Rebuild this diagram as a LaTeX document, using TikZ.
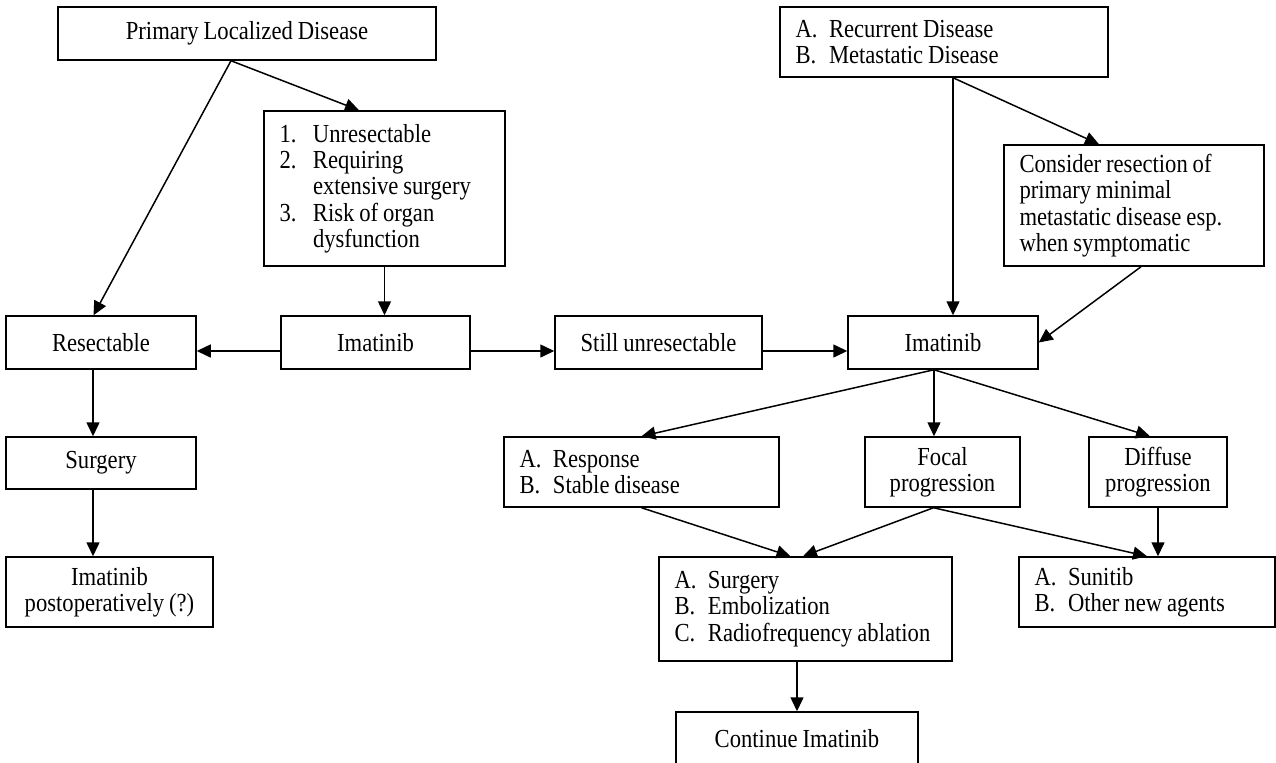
\documentclass[tikz,border=0pt]{standalone}
\usepackage{fontspec}
\setmainfont[FakeStretch=0.87,WordSpace=0.87]{Liberation Serif}
\usepackage{tikz}
\usetikzlibrary{arrows.meta}
\newcommand{\fs}{\fontsize{14.8pt}{15pt}\selectfont}
\newcommand{\itm}[2]{\makebox[0.67cm][l]{#1}#2}

\begin{document}
\begin{tikzpicture}[
  box/.style={draw,line width=0.85pt,inner sep=0pt,align=center,font=\fs},
  lbox/.style={box,inner xsep=0.31cm,align=flush left},
  arr/.style={-{Triangle[length=0.28cm,width=0.26cm]},line width=0.85pt}]
  \useasboundingbox (0,0) rectangle (25.52,-15.24);
  % left branch
  \node[box,minimum width=7.56cm,minimum height=1.06cm] (primary) at (4.94,-0.67) {Primary Localized Disease};
  \node[lbox,text width=4.20cm,minimum height=3.10cm] (crit) at (7.69,-3.77)
    {\itm{1.}{Unresectable}\\ \itm{2.}{Requiring}\\ \hspace*{0.67cm}extensive surgery\\ \itm{3.}{Risk of organ}\\ \hspace*{0.67cm}dysfunction};
  \node[box,minimum width=3.80cm,minimum height=1.06cm] (resect) at (2.02,-6.85) {Resectable};
  \node[box,minimum width=3.78cm,minimum height=1.06cm] (imat1) at (7.51,-6.85) {Imatinib};
  \node[box,minimum width=3.80cm,minimum height=1.04cm] (surg) at (2.02,-9.26) {Surgery};
  \node[box,minimum width=4.14cm,minimum height=1.40cm] (post) at (2.19,-11.84) {Imatinib\\ postoperatively (?)};
  % right branch
  \node[box,minimum width=4.14cm,minimum height=1.06cm] (still) at (13.17,-6.85) {Still unresectable};
  \node[lbox,text width=5.94cm,minimum height=1.40cm] (rec) at (18.88,-0.84)
    {\itm{A.}{Recurrent Disease}\\ \itm{B.}{Metastatic Disease}};
  \node[lbox,text width=4.58cm,minimum height=2.42cm] (consider) at (22.68,-4.11)
    {Consider resection of\\ primary minimal\\ metastatic disease esp.\\ when symptomatic};
  \node[box,minimum width=3.80cm,minimum height=1.06cm] (imat2) at (18.86,-6.85) {Imatinib};
  \node[lbox,text width=4.88cm,minimum height=1.40cm] (resp) at (12.83,-9.44)
    {\itm{A.}{Response}\\ \itm{B.}{Stable disease}};
  \node[box,minimum width=3.10cm,minimum height=1.40cm] (focal) at (18.85,-9.44) {Focal\\ progression};
  \node[box,minimum width=2.76cm,minimum height=1.40cm] (diffuse) at (23.16,-9.44) {Diffuse\\ progression};
  \node[lbox,text width=5.24cm,minimum height=2.08cm] (opts) at (16.11,-12.18)
    {\itm{A.}{Surgery}\\ \itm{B.}{Embolization}\\ \itm{C.}{Radiofrequency ablation}};
  \node[lbox,text width=4.50cm,minimum height=1.40cm] (suni) at (22.94,-11.84)
    {\itm{A.}{Sunitib}\\ \itm{B.}{Other new agents}};
  \node[box,minimum width=4.84cm,minimum height=1.08cm] (cont) at (15.94,-14.78) {Continue Imatinib};
  % connectors
  \coordinate (p0) at ([xshift=-0.32cm]primary.south);
  \coordinate (c0) at (crit.south);
  \coordinate (s0) at ([xshift=-0.16cm]resect.south);
  \coordinate (r0) at ([xshift=0.18cm]rec.south);
  \coordinate (i0) at ([xshift=-0.18cm]imat2.south);
  \coordinate (f0) at ([xshift=-0.18cm]focal.south);
  \coordinate (o0) at ([xshift=-0.17cm]opts.south);
  \draw[arr] (p0) -- ([xshift=-0.15cm]resect.north);
  \draw[arr] (p0) -- ([xshift=-0.51cm]crit.north);
  \draw[arr] (c0) -- (c0 |- imat1.north);
  \draw[arr] ([yshift=-0.17cm]imat1.west) -- ([yshift=-0.17cm]resect.east);
  \draw[arr] ([yshift=-0.17cm]imat1.east) -- ([yshift=-0.17cm]still.west);
  \draw[arr] ([yshift=-0.17cm]still.east) -- ([yshift=-0.17cm]imat2.west);
  \draw[arr] (s0) -- (s0 |- surg.north);
  \draw[arr] (s0 |- surg.south) -- (s0 |- post.north);
  \draw[arr] (r0) -- (r0 |- imat2.north);
  \draw[arr] (r0) -- ([xshift=-0.70cm]consider.north);
  \draw[arr] ([xshift=0.14cm]consider.south) -- (imat2.east);
  \draw[arr] (i0) -- (resp.north);
  \draw[arr] (i0) -- (i0 |- focal.north);
  \draw[arr] (i0) -- ([xshift=-0.16cm]diffuse.north);
  \draw[arr] (resp.south) -- ([xshift=-0.30cm]opts.north);
  \draw[arr] (f0) -- ([xshift=-0.05cm]opts.north);
  \draw[arr] (f0) -- (suni.north);
  \draw[arr] (diffuse.south) -- (diffuse.south |- suni.north);
  \draw[arr] (o0) -- (o0 |- cont.north);
\end{tikzpicture}
\end{document}
